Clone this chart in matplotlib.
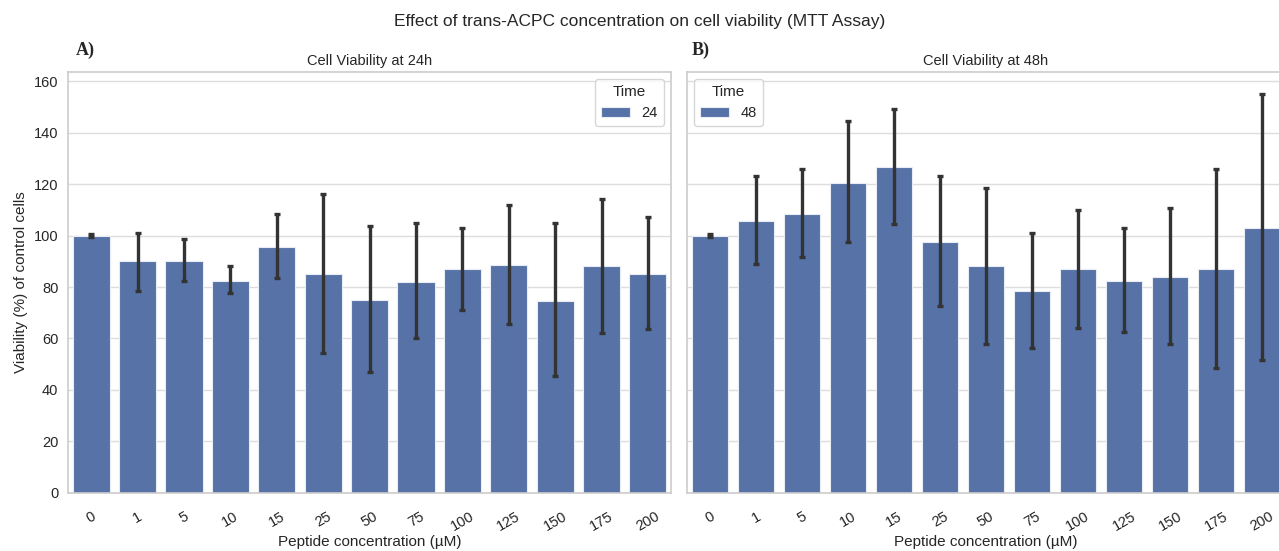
import matplotlib
matplotlib.use("Agg")
import matplotlib.pyplot as plt
import numpy as np
import seaborn as sns

sns.set_style("whitegrid")
plt.rcParams['font.family'] = ['Arial', 'Liberation Sans', 'DejaVu Sans']

# Data
concentrations = ['0', '1', '5', '10', '15', '25', '50', '75', '100', '125', '150', '175', '200']

mean_24 = [100, 90, 90, 82.5, 95.5, 85, 75, 82, 87, 88.5, 74.5, 88, 85]
low_24 = [99.5, 78.5, 82.5, 77.5, 83.5, 54.5, 47, 60, 71, 65.5, 45.5, 62, 63.5]
high_24 = [100.5, 101, 98.5, 88, 108.5, 116, 103.5, 105, 103, 112, 105, 114, 107]

mean_48 = [100, 105.5, 108.5, 120.5, 126.5, 97.5, 88, 78.5, 87, 82.5, 84, 87, 103]
low_48 = [99.5, 89, 91.5, 97.5, 104.5, 72.5, 58, 56.5, 64, 62.5, 58, 48.5, 51.5]
high_48 = [100.5, 123, 126, 144.5, 149, 123, 118.5, 101, 110, 103, 110.5, 126, 155]

BAR_COLOR = '#5672a6'
ERR_COLOR = '#333333'

fig = plt.figure(figsize=(12.79, 5.51), dpi=100)
ax1 = fig.add_axes([0.0532, 0.1053, 0.4715, 0.764])
ax2 = fig.add_axes([0.5371, 0.1053, 0.4676, 0.764], sharey=ax1)


def draw_panel(ax, mean, low, high, time_label, title):
    x = np.arange(len(concentrations))
    mean = np.array(mean)
    yerr = [mean - np.array(low), np.array(high) - mean]
    ax.bar(x, mean, width=0.8, color=BAR_COLOR, edgecolor='#e8ecf4',
           linewidth=0.8, label=time_label, zorder=2)
    ax.errorbar(x, mean, yerr=yerr, fmt='none', ecolor=ERR_COLOR,
                elinewidth=2.4, capsize=2.5, capthick=2.4, zorder=3)
    ax.set_xlim(-0.5, len(concentrations) - 0.5)
    ax.set_xticks(x)
    ax.set_xticklabels(concentrations, rotation=30, ha='center',
                       fontsize=10.5, color='#262626')
    ax.tick_params(axis='x', pad=8)
    ax.tick_params(axis='y', labelsize=10.5, labelcolor='#262626')
    ax.grid(axis='x', visible=False)
    ax.grid(axis='y', color='#dddddd', linewidth=1.0, zorder=0)
    ax.set_axisbelow(True)
    ax.set_xlabel('Peptide concentration (µM)', fontsize=11, color='#262626',
                  labelpad=1)
    ax.set_title(title, fontsize=10.5, color='#262626', pad=5)
    for s in ax.spines.values():
        s.set_color('#cccccc')
        s.set_linewidth(1.2)


draw_panel(ax1, mean_24, low_24, high_24, '24', 'Cell Viability at 24h')
draw_panel(ax2, mean_48, low_48, high_48, '48', 'Cell Viability at 48h')

ax1.set_ylim(0, 163.5)
ax1.set_yticks(np.arange(0, 161, 20))
ax1.set_ylabel('Viability (%) of control cells', fontsize=11, color='#262626')
plt.setp(ax2.get_yticklabels(), visible=False)
ax2.tick_params(axis='y', length=0)

ax1.legend(title='Time', loc='upper right', fontsize=10.5, title_fontsize=11)
ax2.legend(title='Time', loc='upper left', fontsize=10.5, title_fontsize=11)

fig.suptitle('Effect of trans-ACPC concentration on cell viability (MTT Assay)',
             fontsize=12.5, y=0.975, color='#262626')
fig.text(0.059, 0.9, 'A)', fontsize=13, fontweight='bold',
         family=['Liberation Serif', 'DejaVu Serif'])
fig.text(0.541, 0.9, 'B)', fontsize=13, fontweight='bold',
         family=['Liberation Serif', 'DejaVu Serif'])

fig.savefig('out.png', dpi=100)
